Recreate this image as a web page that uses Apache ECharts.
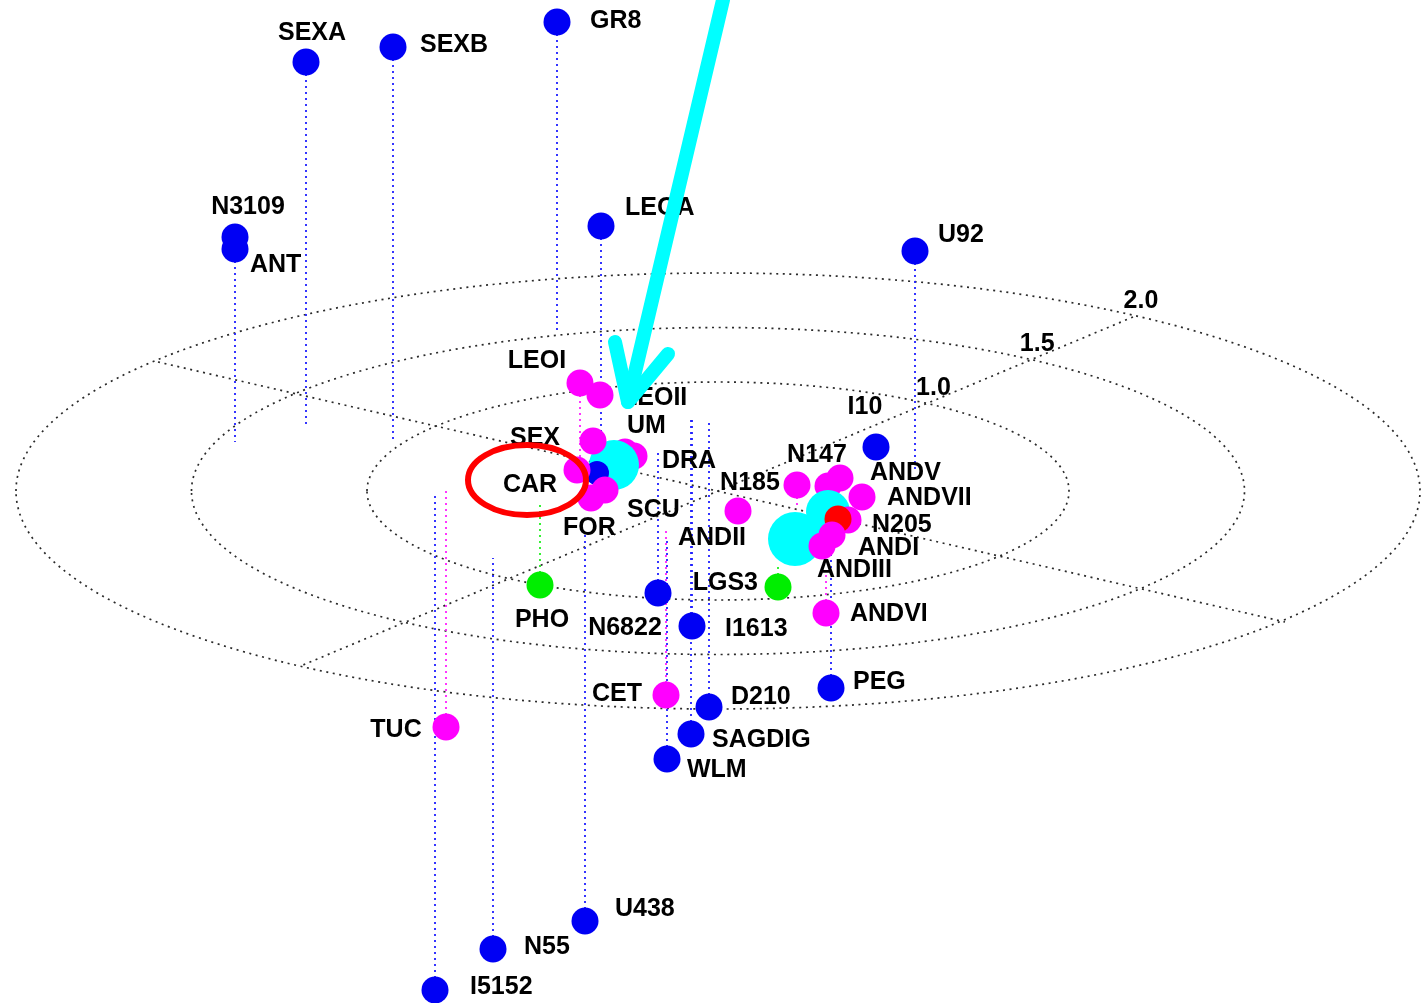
<!DOCTYPE html>
<html>
<head>
<meta charset="utf-8">
<script src="https://cdn.jsdelivr.net/npm/echarts@6/dist/echarts.min.js"></script>
<style>
  html, body { margin: 0; padding: 0; background: #fff; }
  #main { width: 1422px; height: 1003px; }
</style>
</head>
<body>
<div id="main"></div>
<script>
// galaxies in picture units (x right, y down), listed back to front
var names = ['SEXA', 'SEXB', 'GR8', 'N3109', 'ANT', 'LEOA', 'U92',
  'LEOI', 'LEOII', 'UM', 'DRA', 'MW', 'SEX', 'LMC', 'CAR', 'SCU', 'FOR',
  'I10', 'N147', 'ANDV', 'ANDVII', 'N185', 'ANDII', 'M33', 'M31', 'M32', 'N205', 'ANDI', 'ANDIII',
  'LGS3', 'ANDVI', 'PHO', 'N6822', 'I1613', 'CET', 'D210', 'PEG', 'SAGDIG', 'WLM',
  'TUC', 'U438', 'N55', 'I5152'];
var xs = [306, 393, 557, 235, 235, 601, 915,
  580, 600, 625, 634, 614, 593, 597, 577, 605, 591,
  876, 828, 840, 862, 797, 738, 828, 795, 848, 838, 832, 822,
  778, 826, 540, 658, 692, 666, 709, 831, 691, 667,
  446, 585, 493, 435];
var ys = [62, 47, 22, 237, 249, 226, 251,
  383, 395, 452, 456, 465, 441, 473, 470, 490, 498,
  447, 486, 478, 497, 485, 511, 512, 539, 520, 519, 535, 546,
  587, 613, 585, 593, 626, 695, 707, 688, 734, 759,
  727, 921, 949, 990];
// irr = dwarf irregular, sph = dwarf spheroidal, big = spiral, trans = transition, ell = elliptical
var kinds = ['irr', 'irr', 'irr', 'irr', 'irr', 'irr', 'irr',
  'sph', 'sph', 'sph', 'sph', 'big', 'sph', 'irr', 'sph', 'sph', 'sph',
  'irr', 'sph', 'sph', 'sph', 'sph', 'sph', 'big', 'big', 'sph', 'ell', 'sph', 'sph',
  'trans', 'sph', 'trans', 'irr', 'irr', 'sph', 'irr', 'irr', 'irr', 'irr',
  'sph', 'irr', 'irr', 'irr'];
// y where each drop line meets the plane (null = no line)
var feet = [428, 440, 330, 442, null, 432, 473,
  457, null, null, null, null, null, null, null, null, null,
  null, null, null, null, 505, null, null, null, null, null, null, null,
  563, 575, 505, 450, 420, 530, 420, 520, 420, 540,
  487, 535, 558, 493];

// the plane: rings and the two axes through its centre
var planeCenter = [718, 491];
var ringValues = [1.0, 1.5, 2.0];
var ringUnit = [351, 109];
var spokes = [[[158, 362], [1285, 622]], [[1133, 317], [303, 665]]];

// annotations
var arrowShaft = [[723, 0], [628, 402]];
var arrowHead = [[615, 342], [628, 402], [668, 354]];
var circled = [527, 480, 59, 35];

var kindColor = { irr: '#0000f4', sph: '#ff00ff', big: '#00ffff', trans: '#00ee00', ell: '#ff0000' };
var sizeOf = { MW: 50, M31: 54, M33: 44, LMC: 24 };
// label side and offset from the dot
var labelAt = {
  SEXA: ['center', 6, -29], SEXB: ['left', 27, -2], GR8: ['left', 33, -1],
  N3109: ['center', 13, -30], ANT: ['left', 15, 16], LEOA: ['left', 24, -18],
  U92: ['left', 23, -16], LEOI: ['center', -43, -22], LEOII: ['left', 22, 3],
  SEX: ['center', -58, -3], UM: ['left', 2, -26], DRA: ['left', 28, 5],
  CAR: ['center', -47, 15], SCU: ['left', 22, 20], FOR: ['left', -28, 30],
  I10: ['center', -11, -40], N147: ['center', -11, -31], ANDV: ['left', 30, -5],
  ANDVII: ['left', 25, 1], N185: ['center', -47, -2], ANDII: ['center', -26, 27],
  N205: ['left', 34, 6], ANDI: ['left', 26, 13], ANDIII: ['left', -5, 24],
  LGS3: ['right', -20, -4], ANDVI: ['left', 24, 1], PHO: ['center', 2, 35],
  N6822: ['center', -33, 35], I1613: ['left', 33, 3], CET: ['center', -49, -1],
  D210: ['left', 22, -10], PEG: ['left', 22, -6], SAGDIG: ['left', 21, 6],
  WLM: ['left', 20, 11], TUC: ['center', -50, 3], U438: ['left', 30, -12],
  N55: ['left', 31, -2], I5152: ['left', 35, -3]
};
var dropColor = { irr: '#2020ff', sph: '#ff20ff', trans: '#20f020' };

var textStyle = {
  fontFamily: 'Liberation Sans', fontWeight: 'bold', fontSize: 25, color: '#000',
  textBorderWidth: 0, opacity: 1
};

var galaxyData = names.map(function (n, i) {
  var item = {
    name: n,
    value: [xs[i], ys[i]],
    symbolSize: sizeOf[n] || 27,
    itemStyle: { color: kindColor[kinds[i]], opacity: 1 }
  };
  var l = labelAt[n];
  if (l) {
    item.label = Object.assign({
      show: true, position: 'inside', formatter: '{b}',
      align: l[0], verticalAlign: 'middle', offset: [l[1], l[2]]
    }, textStyle);
  } else {
    item.label = { show: false };
  }
  return item;
});

var dropData = [];
names.forEach(function (n, i) {
  if (feet[i] == null) return;
  dropData.push({
    coords: [[xs[i], ys[i]], [xs[i], feet[i]]],
    lineStyle: { color: dropColor[kinds[i]] }
  });
});

var tickData = ringValues.map(function (r) {
  var far = spokes[1][0];
  return {
    name: r.toFixed(1),
    value: [planeCenter[0] + (far[0] - planeCenter[0]) * r / 2,
            planeCenter[1] + (far[1] - planeCenter[1]) * r / 2]
  };
});

var dotted = { color: '#2a2a2a', width: 1.7, type: [2, 4.6] };

var chart = echarts.init(document.getElementById('main'));
chart.setOption({
  animation: false,
  backgroundColor: '#fff',
  grid: { left: 0, right: 0, top: 0, bottom: 0 },
  xAxis: { type: 'value', min: 0, max: 1422, show: false },
  yAxis: { type: 'value', min: 0, max: 1003, inverse: true, show: false },
  series: [
    {
      type: 'custom',
      coordinateSystem: 'cartesian2d',
      silent: true,
      z: 1,
      data: ringValues.map(function (r) { return [planeCenter[0], planeCenter[1], r]; }),
      renderItem: function (params, api) {
        var c = api.coord([api.value(0), api.value(1)]);
        var s = api.size([2 * ringUnit[0] * api.value(2), 2 * ringUnit[1] * api.value(2)]);
        return {
          type: 'ellipse',
          shape: { cx: c[0], cy: c[1], rx: s[0] / 2, ry: s[1] / 2 },
          style: { fill: 'none', stroke: dotted.color, lineWidth: dotted.width, lineDash: dotted.type }
        };
      }
    },
    {
      type: 'lines',
      coordinateSystem: 'cartesian2d',
      silent: true,
      z: 1,
      lineStyle: { color: dotted.color, width: dotted.width, type: dotted.type, opacity: 1 },
      data: spokes.map(function (s) { return { coords: s }; })
    },
    {
      type: 'lines',
      coordinateSystem: 'cartesian2d',
      silent: true,
      z: 2,
      lineStyle: { width: 1.8, type: [2, 4], opacity: 1 },
      data: dropData
    },
    {
      type: 'scatter',
      silent: true,
      z: 3,
      symbolSize: 0,
      label: Object.assign({
        show: true, position: 'inside', formatter: '{b}',
        align: 'center', verticalAlign: 'middle', offset: [8, -16]
      }, textStyle),
      data: tickData
    },
    {
      type: 'scatter',
      silent: true,
      z: 5,
      symbol: 'circle',
      itemStyle: { opacity: 1 },
      data: galaxyData
    },
    {
      type: 'custom',
      coordinateSystem: 'cartesian2d',
      silent: true,
      z: 8,
      data: [circled],
      renderItem: function (params, api) {
        var c = api.coord([api.value(0), api.value(1)]);
        var s = api.size([2 * api.value(2), 2 * api.value(3)]);
        return {
          type: 'ellipse',
          shape: { cx: c[0], cy: c[1], rx: s[0] / 2, ry: s[1] / 2 },
          style: { fill: 'none', stroke: '#ff0000', lineWidth: 6 }
        };
      }
    },
    {
      type: 'line',
      silent: true,
      z: 9,
      symbol: 'none',
      lineStyle: { color: '#00ffff', width: 14, cap: 'round', join: 'round' },
      data: arrowShaft
    },
    {
      type: 'line',
      silent: true,
      z: 9,
      symbol: 'none',
      lineStyle: { color: '#00ffff', width: 14, cap: 'round', join: 'round' },
      data: arrowHead
    }
  ]
});
</script>
</body>
</html>
